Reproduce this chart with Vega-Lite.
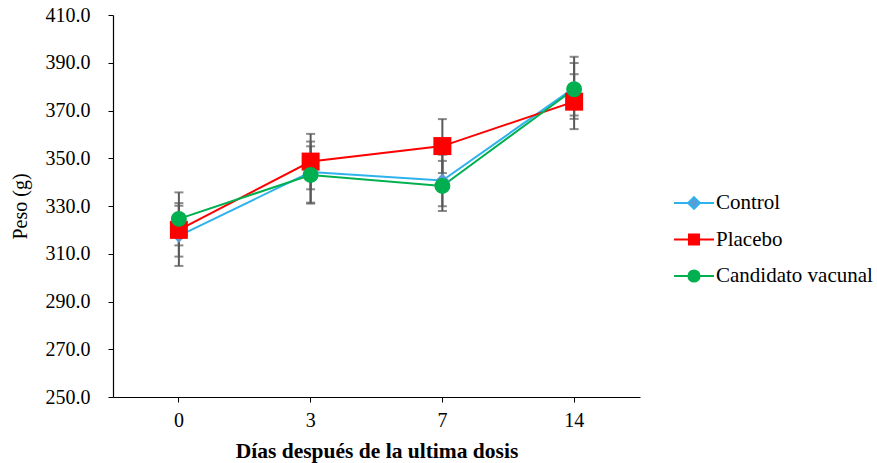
{
  "$schema": "https://vega.github.io/schema/vega-lite/v6.json",
  "width": 527,
  "height": 382,
  "autosize": {"type": "none"},
  "padding": {"left": 113, "top": 15, "right": 237, "bottom": 66},
  "background": "white",
  "config": {
    "view": {"stroke": null},
    "font": "Liberation Serif",
    "axis": {"labelFont": "Liberation Serif", "titleFont": "Liberation Serif", "labelColor": "black", "titleColor": "black", "domainColor": "black", "tickColor": "black", "grid": false},
    "legend": {"orient": "none", "legendX": 566, "legendY": 173, "symbolSize": 784, "symbolStrokeWidth": 2, "symbolOpacity": 1, "labelFont": "Liberation Serif", "labelFontSize": 21, "labelColor": "black", "labelOffset": 7, "rowPadding": 11.5, "padding": 0, "labelLimit": 300}
  },
  "data": {
    "values": [
      {"day": "0", "series": "Control", "mean": 317.5, "lo": 304.9, "hi": 330.1},
      {"day": "3", "series": "Control", "mean": 344.2, "lo": 331.4, "hi": 357.0},
      {"day": "7", "series": "Control", "mean": 340.7, "lo": 329.9, "hi": 351.5},
      {"day": "14", "series": "Control", "mean": 379.5, "lo": 366.5, "hi": 392.5},
      {"day": "0", "series": "Placebo", "mean": 320.0, "lo": 308.8, "hi": 331.2},
      {"day": "3", "series": "Placebo", "mean": 348.6, "lo": 337.0, "hi": 360.2},
      {"day": "7", "series": "Placebo", "mean": 355.1, "lo": 343.8, "hi": 366.4},
      {"day": "14", "series": "Placebo", "mean": 373.7, "lo": 362.2, "hi": 385.2},
      {"day": "0", "series": "Candidato vacunal", "mean": 324.6, "lo": 313.5, "hi": 335.7},
      {"day": "3", "series": "Candidato vacunal", "mean": 343.0, "lo": 331.0, "hi": 355.0},
      {"day": "7", "series": "Candidato vacunal", "mean": 338.4, "lo": 327.9, "hi": 348.9},
      {"day": "14", "series": "Candidato vacunal", "mean": 378.9, "lo": 367.9, "hi": 389.9}
    ]
  },
  "encoding": {
    "x": {
      "field": "day", "type": "ordinal",
      "scale": {"type": "band", "domain": ["0", "3", "7", "14"], "paddingInner": 0, "paddingOuter": 0},
      "axis": {"title": "Días después de la ultima dosis", "titleFontSize": 21.5, "titleFontWeight": "bold", "titlePadding": 10, "labelFontSize": 20, "labelAngle": 0, "labelPadding": 8, "tickSize": 5, "bandPosition": 0.5, "domainWidth": 1.2}
    },
    "y": {"field": "mean", "type": "quantitative", "scale": {"domain": [250, 410], "nice": false, "zero": false},
      "axis": {"title": "Peso (g)", "titleFontSize": 20, "titleFontWeight": "normal", "titlePadding": 15, "labelFontSize": 20, "labelPadding": 18, "tickSize": 5, "values": [250, 270, 290, 310, 330, 350, 370, 390, 410], "format": ".1f", "domainWidth": 1.2}}
  },
  "layer": [
    {
      "transform": [{"filter": "datum.series === 'Control'"}],
      "mark": {"type": "line", "strokeWidth": 2, "color": "#2EB2EE"}
    },
    {
      "transform": [{"filter": "datum.series === 'Placebo'"}],
      "mark": {"type": "line", "strokeWidth": 2, "color": "#FF0000"}
    },
    {
      "transform": [{"filter": "datum.series === 'Candidato vacunal'"}],
      "mark": {"type": "line", "strokeWidth": 2, "color": "#00B050"}
    },
    {
      "mark": {"type": "rule", "color": "#595959", "strokeWidth": 2},
      "encoding": {"y": {"field": "lo", "type": "quantitative"}, "y2": {"field": "hi"}}
    },
    {
      "mark": {"type": "tick", "color": "#595959", "thickness": 2, "size": 9, "orient": "horizontal"},
      "encoding": {"y": {"field": "lo", "type": "quantitative"}}
    },
    {
      "mark": {"type": "tick", "color": "#595959", "thickness": 2, "size": 9, "orient": "horizontal"},
      "encoding": {"y": {"field": "hi", "type": "quantitative"}}
    },
    {
      "transform": [{"filter": "datum.series === 'Control'"}],
      "mark": {"type": "point", "shape": "diamond", "filled": true, "fill": "#5B9BD5", "opacity": 1, "size": 196, "strokeWidth": 0}
    },
    {
      "transform": [{"filter": "datum.series === 'Placebo'"}],
      "mark": {"type": "point", "shape": "square", "filled": true, "fill": "#FF0000", "opacity": 1, "size": 324, "strokeWidth": 0}
    },
    {
      "transform": [{"filter": "datum.series === 'Candidato vacunal'"}],
      "mark": {"type": "point", "shape": "circle", "filled": true, "fill": "#00B050", "opacity": 1, "size": 254, "strokeWidth": 0}
    },
    {
      "mark": {"type": "point", "filled": true, "opacity": 0, "strokeWidth": 2},
      "encoding": {
        "shape": {"field": "series", "type": "nominal", "title": null, "scale": {"domain": ["Control", "Placebo", "Candidato vacunal"], "range": [
          "M-1.43,0L-0.45,0M0.45,0L1.43,0M0,-0.42L0.42,0L0,0.42L-0.42,0Z",
          "M-1.43,0L-0.39,0M0.39,0L1.43,0M-0.36,-0.36H0.36V0.36H-0.36Z",
          "M-1.43,0L-0.42,0M0.42,0L1.43,0M0.4,0A0.4,0.4 0 1,1 -0.4,0A0.4,0.4 0 1,1 0.4,0Z"]}},
        "fill": {"field": "series", "type": "nominal", "title": null, "scale": {"domain": ["Control", "Placebo", "Candidato vacunal"], "range": ["#5B9BD5", "#FF0000", "#00B050"]}},
        "stroke": {"field": "series", "type": "nominal", "title": null, "scale": {"domain": ["Control", "Placebo", "Candidato vacunal"], "range": ["#2EB2EE", "#FF0000", "#00B050"]}}
      }
    }
  ]
}
